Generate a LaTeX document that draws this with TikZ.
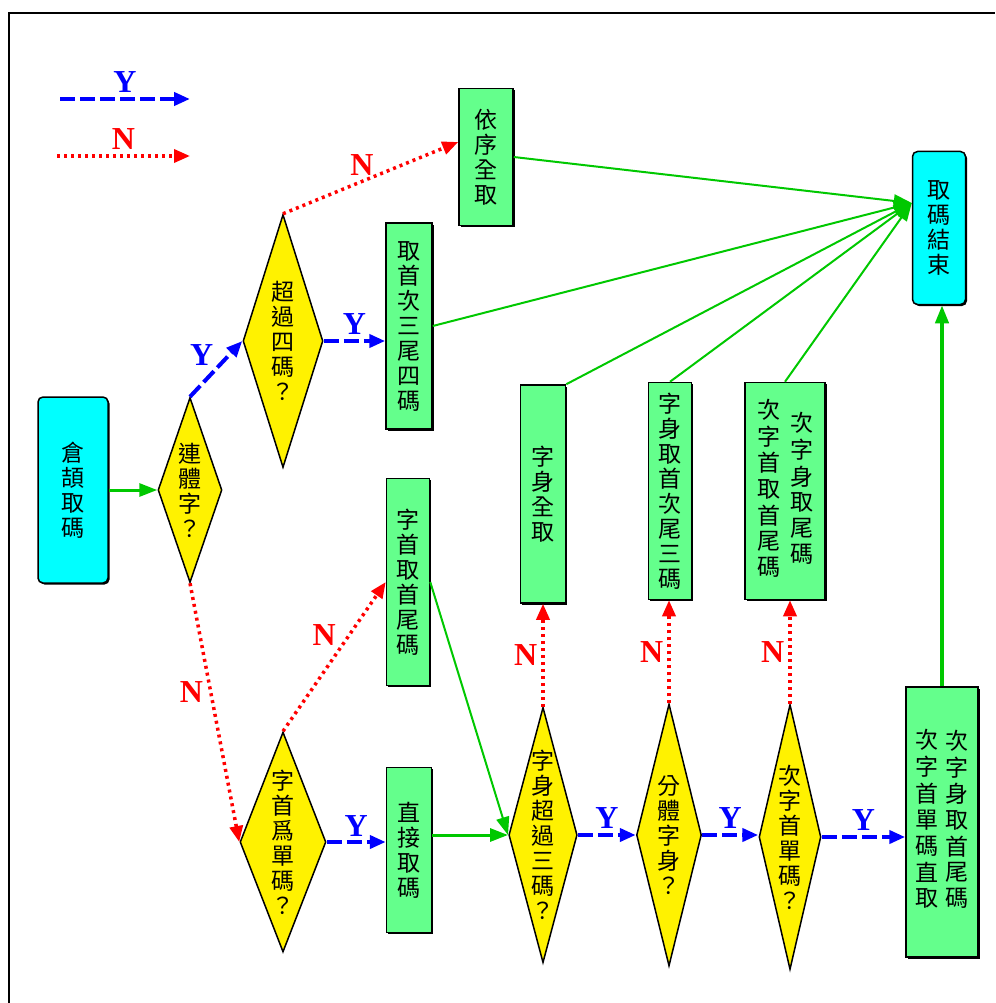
\documentclass[tikz,border=0pt]{standalone}
\usepackage{fontspec}
\setmainfont{Liberation Serif}
\newfontfamily\cjk{Noto Sans CJK TC}
\usetikzlibrary{shapes.geometric,arrows.meta,shadows}
\definecolor{boxgreen}{RGB}{100,255,140}
\definecolor{flowgreen}{RGB}{0,200,0}
\definecolor{termcyan}{RGB}{0,255,255}
\newcommand{\vcol}[1]{\begin{tabular}[c]{@{}c@{}}#1\end{tabular}}

\begin{document}
\begin{tikzpicture}[x=1pt,y=-1pt,
    every node/.style={font=\cjk\fontsize{23}{25}\selectfont, align=center, inner sep=1pt},
    term/.style={draw, line width=1.5pt, fill=termcyan, rounded corners=5pt,
        drop shadow={shadow xshift=1.5pt, shadow yshift=-1.5pt, fill=black, opacity=1}},
    proc/.style={draw, line width=1.5pt, fill=boxgreen,
        drop shadow={shadow xshift=1.5pt, shadow yshift=-1.5pt, fill=black, opacity=1}},
    ask/.style={diamond, draw, line width=1.5pt, fill=yellow, inner sep=0pt},
    yes/.style={draw=blue, line width=4pt, dash pattern=on 15pt off 5pt,
        -{Triangle[length=16pt,width=13pt]}},
    no/.style={draw=red, line width=3.5pt, dash pattern=on 3pt off 4pt,
        -{Triangle[length=16pt,width=13pt]}},
    flow/.style={draw=flowgreen, line width=3pt, -{Triangle[length=18pt,width=13pt]}},
    ylab/.style={text=blue, font=\bfseries\fontsize{32}{32}\selectfont, inner sep=0pt},
    nlab/.style={text=red, font=\bfseries\fontsize{32}{32}\selectfont, inner sep=0pt}]

    \useasboundingbox (0,0) rectangle (995,1003);
    \draw[line width=2pt] (9,1003) -- (9,13) -- (995,13);

    % legend
    \coordinate (ya) at (60,99);
    \coordinate (yb) at (190,99);
    \coordinate (na) at (57,156);
    \coordinate (nb) at (190,156);
    \draw[yes] (ya) -- (yb) node[ylab, midway, above=4pt] {Y};
    \draw[no] (na) -- (nb) node[nlab, midway, above=5pt] {N};

    % nodes
    \node[term, minimum width=70pt, minimum height=186pt] (start) at (73,490) {倉\\頡\\取\\碼};
    \node[ask, shape aspect=.346, minimum width=64pt, minimum height=185pt] (d1) at (190,490) {連\\體\\字\\？};
    \node[ask, shape aspect=.316, minimum width=80pt, minimum height=253pt] (d2) at (283,341) {超\\過\\四\\碼\\？};
    \node[proc, minimum width=54pt, minimum height=137pt] (seq) at (486,157) {依\\序\\全\\取};
    \node[proc, minimum width=46pt, minimum height=206pt] (take4) at (409,326) {取\\首\\次\\三\\尾\\四\\碼};
    \node[term, minimum width=53pt, minimum height=153pt] (endbox) at (939,228) {取\\碼\\結\\束};
    \node[ask, shape aspect=.39, minimum width=86pt, minimum height=220pt] (d3) at (283,842) {字\\首\\爲\\單\\碼\\？};
    \node[proc, minimum width=43pt, minimum height=207pt] (headht) at (408,582) {字\\首\\取\\首\\尾\\碼};
    \node[proc, minimum width=45pt, minimum height=165pt] (direct) at (409,850) {直\\接\\取\\碼};
    \node[ask, shape aspect=.268, minimum width=68pt, minimum height=254pt] (d4) at (543,835) {字\\身\\超\\過\\三\\碼\\？};
    \node[ask, shape aspect=.248, minimum width=65pt, minimum height=262pt] (d5) at (669,835) {分\\體\\字\\身\\？};
    \node[ask, shape aspect=.234, minimum width=62pt, minimum height=265pt] (d6) at (790,837) {次\\字\\首\\單\\碼\\？};
    \node[proc, minimum width=45pt, minimum height=218pt] (bodyall) at (543,494) {字\\身\\全\\取};
    \node[proc, minimum width=43pt, minimum height=217pt] (body3) at (670,491) {字\\身\\取\\首\\次\\尾\\三\\碼};
    \node[proc, minimum width=80pt, minimum height=217pt] (next2) at (785,491)
        {\vcol{次\\字\\首\\取\\首\\尾\\碼}\hspace{10pt}\vcol{次\\字\\身\\取\\尾\\碼}};
    \node[proc, minimum width=72pt, minimum height=270pt] (last) at (942,822)
        {\vcol{次\\字\\首\\單\\碼\\直\\取}\hspace{7pt}\vcol{次\\字\\身\\取\\首\\尾\\碼}};

    % connectors
    \draw[flow] (start.east) -- (d1.west);
    \draw[yes] (d1.north) -- (d2.west) node[ylab, midway, above left=1pt] {Y};
    \draw[no] (d1.south) -- (d3.west) node[nlab, pos=.42, left=6pt] {N};
    \draw[no] (d2.north) -- ([yshift=15pt]seq.west) node[nlab, pos=.45, above=4pt] {N};
    \draw[yes] (d2.east) -- (d2.east -| take4.west) node[ylab, midway, above=5pt] {Y};
    \draw[no] (d3.north) -- (headht.west) node[nlab, pos=.55, above left=2pt] {N};
    \draw[yes] (d3.east) -- (d3.east -| direct.west) node[ylab, midway, above=4pt] {Y};
    \draw[flow, line width=2pt] (headht.east) -- (d4.west);
    \draw[flow] (direct.east |- d4.west) -- (d4.west);
    \draw[yes] (d4.east) -- (d5.west) node[ylab, midway, above=5pt] {Y};
    \draw[yes] (d5.east) -- (d5.east -| d6.west) node[ylab, midway, above=5pt] {Y};
    \draw[yes] (d6.east) -- (d6.east -| last.west) node[ylab, midway, above=5pt] {Y};
    \draw[no] (d4.north) -- (bodyall.south) node[nlab, midway, left=4pt] {N};
    \draw[no] (d5.north) -- (d5.north |- body3.south) node[nlab, midway, left=4pt] {N};
    \draw[no] (d6.north) -- (d6.north |- next2.south) node[nlab, midway, left=4pt] {N};
    \draw[flow, line width=2pt] (seq.east) -- ([yshift=25pt]endbox.west);
    \draw[flow, line width=2pt] (take4.east) -- ([yshift=25pt]endbox.west);
    \draw[flow, line width=2pt] (bodyall.north east) -- ([yshift=25pt]endbox.west);
    \draw[flow, line width=2pt] (body3.north) -- ([yshift=25pt]endbox.west);
    \draw[flow, line width=2pt] (next2.north) -- ([yshift=25pt]endbox.west);
    \draw[flow, line width=4pt] (last.north) -- (last.north |- endbox.south);

\end{tikzpicture}
\end{document}
